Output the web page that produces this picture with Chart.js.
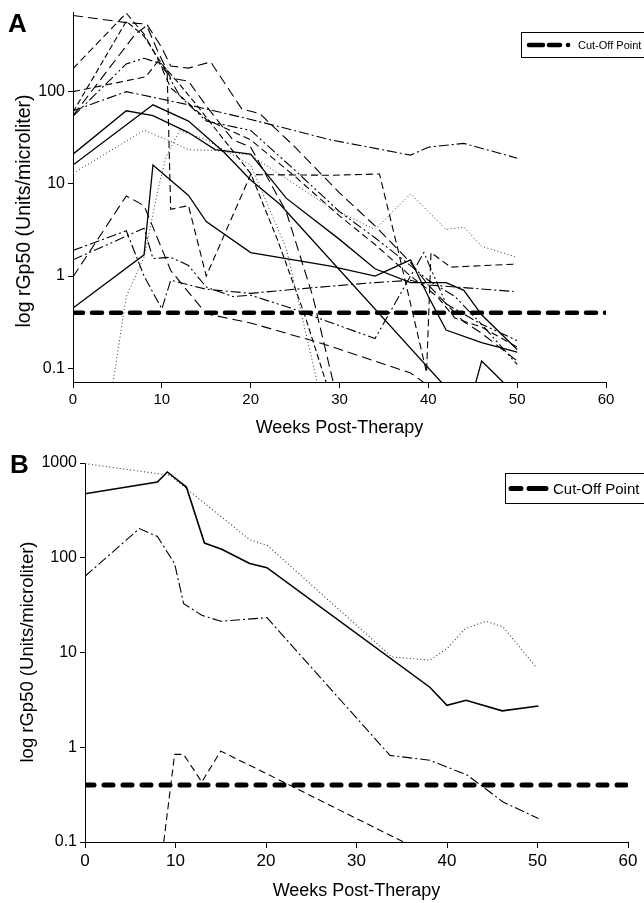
<!DOCTYPE html>
<html>
<head>
<meta charset="utf-8">
<script src="https://cdn.jsdelivr.net/npm/chart.js@4.4.1/dist/chart.umd.min.js"></script>
<style>
  html, body { margin: 0; padding: 0; background: #fff; }
  body { width: 644px; height: 903px; position: relative; overflow: hidden; }
  canvas { position: absolute; left: 0; }
  #chartA { top: 0; }
  #chartB { top: 440px; }
</style>
</head>
<body>
<canvas id="chartA" width="644" height="445"></canvas>
<canvas id="chartB" width="644" height="463"></canvas>
<script>
// ---- Panel A: individual patients (weeks, rGp50 units/microliter) ----
const weeksA1 = [0, 6, 8.3, 10, 11, 13, 15.5, 19, 21, 25, 30, 34, 38, 40, 42, 44, 46, 50];
const valsA1  = [670, 560, 540, 300, 190, 180, 210, 65, 58, 25, 8, 3.5, 1.4, 0.8, 0.5, 0.32, 0.24, 0.12];
const weeksA2 = [0, 6, 8, 9.5, 11, 13, 15, 20, 25, 30, 34, 38, 41, 43, 46, 50];
const valsA2  = [178, 710, 420, 230, 110, 75, 50, 30, 12, 4.5, 2.2, 1.0, 0.6, 0.35, 0.28, 0.17];
const weeksA3 = [0, 8.2, 9.5, 10.6, 11, 13, 15, 20, 29, 34.5, 36.6, 39.8, 40.3, 42.5, 50];
const valsA3  = [100, 145, 210, 160, 5.3, 5.8, 1.0, 12.6, 12.4, 12.8, 1.9, 0.09, 1.8, 1.25, 1.35];
const weeksA4 = [0, 6, 13, 20, 29, 38, 40, 44, 50];
const valsA4  = [62, 100, 72, 50, 30, 20.5, 25, 27.5, 19];
const weeksA5 = [0, 7, 8.3, 9.5, 11, 13, 15, 18, 20, 24, 27, 29.3];
const valsA5  = [55, 420, 520, 280, 140, 130, 70, 30, 25, 5, 0.6, 0.07];
const weeksA6 = [0, 6, 8, 10, 12, 15, 20, 25, 30, 34, 38, 40, 43, 46, 50];
const valsA6  = [54, 200, 230, 200, 90, 48, 38, 14, 5, 2.6, 1.3, 0.9, 0.6, 0.3, 0.2];
const weeksA7 = [0, 6, 9, 13, 16, 20, 24, 30, 34, 38, 42, 44, 46, 50];
const valsA7  = [21, 62, 55, 36, 23.5, 21, 7, 2.5, 1.2, 0.85, 0.85, 0.7, 0.38, 0.16];
const weeksA8 = [0, 9, 13, 17, 20, 23.3, 41.5];
const valsA8  = [16, 72, 48, 22, 11, 6, 0.07];
const weeksA9 = [0, 8, 11, 13, 16, 20, 29, 34, 38, 42, 44, 46, 50];
const valsA9  = [13, 38, 29, 23.5, 23, 20.5, 5.5, 3.2, 7.8, 3.2, 3.4, 2.1, 1.6];
const weeksA10 = [4.5, 6, 8, 9.6, 10.5, 12, 15, 20, 24, 27.5];
const valsA10  = [0.07, 0.6, 1.6, 9, 20, 38, 30, 16, 2, 0.07];
const weeksA11 = [0, 6, 8, 10, 11, 15, 20, 25, 34, 38, 40, 44, 49.6];
const valsA11  = [1.9, 3.1, 1.0, 0.44, 0.9, 0.72, 0.65, 0.72, 0.85, 0.9, 0.8, 0.75, 0.68];
const weeksA12 = [0, 8, 9, 11, 13, 15, 18, 20, 24.5, 34, 39.5, 42, 46, 50];
const valsA12  = [1.5, 3.3, 1.55, 1.6, 1.3, 0.76, 0.6, 0.62, 0.45, 0.21, 1.8, 0.5, 0.3, 0.11];
const weeksA13 = [0, 6, 8, 11, 15, 20, 28, 38, 39.5];
const valsA13  = [0.98, 7.4, 5.8, 1.15, 0.39, 0.31, 0.186, 0.089, 0.07];
const weeksA14 = [0, 8, 9, 13, 15, 20, 29, 34, 38, 40, 42, 46, 50];
const valsA14  = [0.45, 1.7, 16, 7.5, 3.9, 1.8, 1.28, 1.0, 1.5, 0.6, 0.26, 0.19, 0.15];
const weeksA15 = [45.3, 46, 48.6];
const valsA15  = [0.068, 0.12, 0.068];
const weeksA16 = [0, 6, 8, 10, 12, 14, 17, 20, 23, 26, 28.5];
const valsA16  = [60, 580, 400, 200, 120, 70, 30, 13, 2.5, 0.4, 0.07];

// ---- Panel B ----
const weeksB1 = [0, 8, 9.1, 11.2, 13.2, 15.1, 18.2, 20.1, 38.1, 40, 42.1, 46.1, 50.1];
const valsB1  = [474, 630, 804, 558, 143, 123, 87, 78.5, 4.3, 2.77, 3.13, 2.42, 2.73];
const weeksB2 = [0, 9.4, 11.2, 18.2, 20.15, 33.9, 38.1, 40, 42, 44.3, 46.2, 49.9];
const valsB2  = [984, 741, 537, 155, 135, 9.0, 8.3, 11, 17.8, 21.4, 18.6, 6.9];
const weeksB3 = [0, 6, 8, 9.9, 10.9, 12.9, 15, 20.1, 33.7, 38.1, 42.2, 44, 46.2, 50.1];
const valsB3  = [63.7, 203, 168, 86.7, 32.8, 24.7, 21.4, 23.3, 0.82, 0.73, 0.51, 0.38, 0.264, 0.177];
const weeksB4 = [8.7, 9.9, 10.9, 12.9, 15, 20, 35.2];
const valsB4  = [0.1, 0.84, 0.84, 0.43, 0.91, 0.53, 0.1];

// cut-off level, both panels
const cutWeeks = [0, 60];
const cutVals  = [0.4, 0.4];

const yTicksA = [0.1, 1, 10, 100];
const yTicksB = [0.1, 1, 10, 100, 1000];

const FONT = 'Liberation Sans, Arial, Helvetica, sans-serif';
const SOLID = [];
const DASH_LONG = [10, 5];
const DASH = [7, 4];
const DASH_SHORT = [6, 3];
const DOT = [1, 2.5];
const DASH_DOT = [10, 3, 2, 3];
const DASH_DOT_DOT = [10, 3, 2, 3, 2, 3];

function pts(weeks, vals) {
  return weeks.map((w, i) => ({ x: w, y: vals[i] }));
}

function line(weeks, vals, dash, width, color, cap) {
  return {
    data: pts(weeks, vals),
    borderColor: color || '#000',
    borderWidth: width || 1.1,
    borderDash: dash,
    borderCapStyle: cap || 'butt',
    pointRadius: 0,
    tension: 0,
    fill: false
  };
}

// panel letter, rotated y title and boxed legend
const panelDecor = {
  id: 'panelDecor',
  afterDraw(chart, args, o) {
    const ctx = chart.ctx;
    ctx.save();
    ctx.fillStyle = '#000';
    ctx.font = 'bold 26px ' + FONT;
    ctx.textAlign = 'left';
    ctx.textBaseline = 'alphabetic';
    ctx.fillText(o.letter, o.letterX, o.letterY);

    ctx.save();
    ctx.translate(o.titleX, o.titleY);
    ctx.rotate(-Math.PI / 2);
    ctx.font = o.titleSize + 'px ' + FONT;
    ctx.textAlign = 'center';
    ctx.textBaseline = 'middle';
    ctx.fillText('log rGp50 (Units/microliter)', 0, 0);
    ctx.restore();

    const L = o.legend;
    ctx.strokeStyle = '#000';
    ctx.lineWidth = 1;
    ctx.setLineDash([]);
    ctx.strokeRect(L.x + 0.5, L.y + 0.5, L.w, L.h);
    const cy = L.y + L.h / 2 + 0.5;
    ctx.lineWidth = L.lineWidth;
    ctx.lineCap = 'round';
    ctx.setLineDash(L.dash);
    ctx.beginPath();
    ctx.moveTo(L.x1, cy);
    ctx.lineTo(L.x2, cy);
    ctx.stroke();
    ctx.setLineDash([]);
    ctx.font = L.fontSize + 'px ' + FONT;
    ctx.textAlign = 'left';
    ctx.textBaseline = 'middle';
    ctx.fillText('Cut-Off Point', L.tx, cy + 1);
    ctx.restore();
  }
};

function options(c) {
  return {
    responsive: false,
    animation: false,
    layout: { padding: { left: 0, top: c.padTop, right: c.padRight, bottom: 0 } },
    plugins: {
      legend: { display: false },
      tooltip: { enabled: false },
      panelDecor: c.decor
    },
    scales: {
      x: {
        type: 'linear',
        min: 0,
        max: 60,
        afterFit: s => { s.height = c.xHeight; },
        ticks: { stepSize: 10, maxRotation: 0, color: '#000', padding: c.xTickPad,
                 font: { family: FONT, size: c.xTickSize } },
        grid: { display: true, drawOnChartArea: false, drawTicks: true, tickLength: 6, color: '#000' },
        border: { display: true, color: '#000', width: 1 },
        title: { display: true, text: 'Weeks Post-Therapy', color: '#000',
                 font: { family: FONT, size: 18 }, padding: { top: 0, bottom: c.titlePad } }
      },
      y: {
        type: 'logarithmic',
        min: c.yMin,
        max: c.yMax,
        afterFit: s => { s.width = c.yWidth; },
        afterBuildTicks: s => { s.ticks = c.yTicks.map(v => ({ value: v })); },
        ticks: { color: '#000', padding: 3, font: { family: FONT, size: c.yTickSize },
                 callback: v => String(v) },
        grid: { display: true, drawOnChartArea: false, drawTicks: true, tickLength: 5, color: '#000' },
        border: { display: true, color: '#000', width: 1 }
      }
    }
  };
}

const datasetsA = [
  line(weeksA1, valsA1, DASH_LONG),
  line(weeksA2, valsA2, DASH),
  line(weeksA3, valsA3, DASH),
  line(weeksA4, valsA4, DASH_DOT),
  line(weeksA5, valsA5, DASH_LONG),
  line(weeksA6, valsA6, DASH_DOT_DOT),
  line(weeksA7, valsA7, SOLID, 1.3),
  line(weeksA8, valsA8, SOLID, 1.3),
  line(weeksA9, valsA9, DOT, 1, '#333'),
  line(weeksA10, valsA10, DOT, 1, '#333'),
  line(weeksA11, valsA11, DASH_DOT),
  line(weeksA12, valsA12, DASH_DOT_DOT),
  line(weeksA13, valsA13, DASH_LONG),
  line(weeksA14, valsA14, SOLID, 1.3),
  line(weeksA15, valsA15, SOLID, 1.3),
  line(weeksA16, valsA16, DASH_SHORT),
  line(cutWeeks, cutVals, [10, 9], 4.5, '#000', 'round')
];

const datasetsB = [
  line(weeksB1, valsB1, SOLID, 1.6),
  line(weeksB2, valsB2, DOT, 1.1, '#333'),
  line(weeksB3, valsB3, DASH_DOT, 1.1),
  line(weeksB4, valsB4, DASH, 1.1),
  line(cutWeeks, cutVals, [9, 10], 5, '#000', 'round')
];

new Chart(document.getElementById('chartA'), {
  type: 'line',
  data: { datasets: datasetsA },
  options: options({
    padTop: 10, padRight: 38, xHeight: 63, yWidth: 73, xTickPad: 3, titlePad: 6,
    xTickSize: 15, yTickSize: 16, yMin: 0.071, yMax: 720, yTicks: yTicksA,
    decor: {
      letter: 'A', letterX: 8, letterY: 32, titleX: 25, titleY: 211, titleSize: 19.5,
      legend: { x: 521, y: 32, w: 140, h: 25, x1: 529, x2: 570, dash: [14, 6, 11, 8, 0.1, 100],
                lineWidth: 4.5, tx: 578, fontSize: 11 }
    }
  }),
  plugins: [panelDecor]
});

new Chart(document.getElementById('chartB'), {
  type: 'line',
  data: { datasets: datasetsB },
  options: options({
    padTop: 23, padRight: 16, xHeight: 61, yWidth: 85, xTickPad: 3, titlePad: 1,
    xTickSize: 17, yTickSize: 16, yMin: 0.1, yMax: 1000, yTicks: yTicksB,
    decor: {
      letter: 'B', letterX: 10, letterY: 33, titleX: 28, titleY: 212, titleSize: 18.5,
      legend: { x: 505, y: 33, w: 150, h: 30, x1: 511, x2: 546, dash: [10, 8, 17, 100],
                lineWidth: 5, tx: 553, fontSize: 15 }
    }
  }),
  plugins: [panelDecor]
});
</script>
</body>
</html>
